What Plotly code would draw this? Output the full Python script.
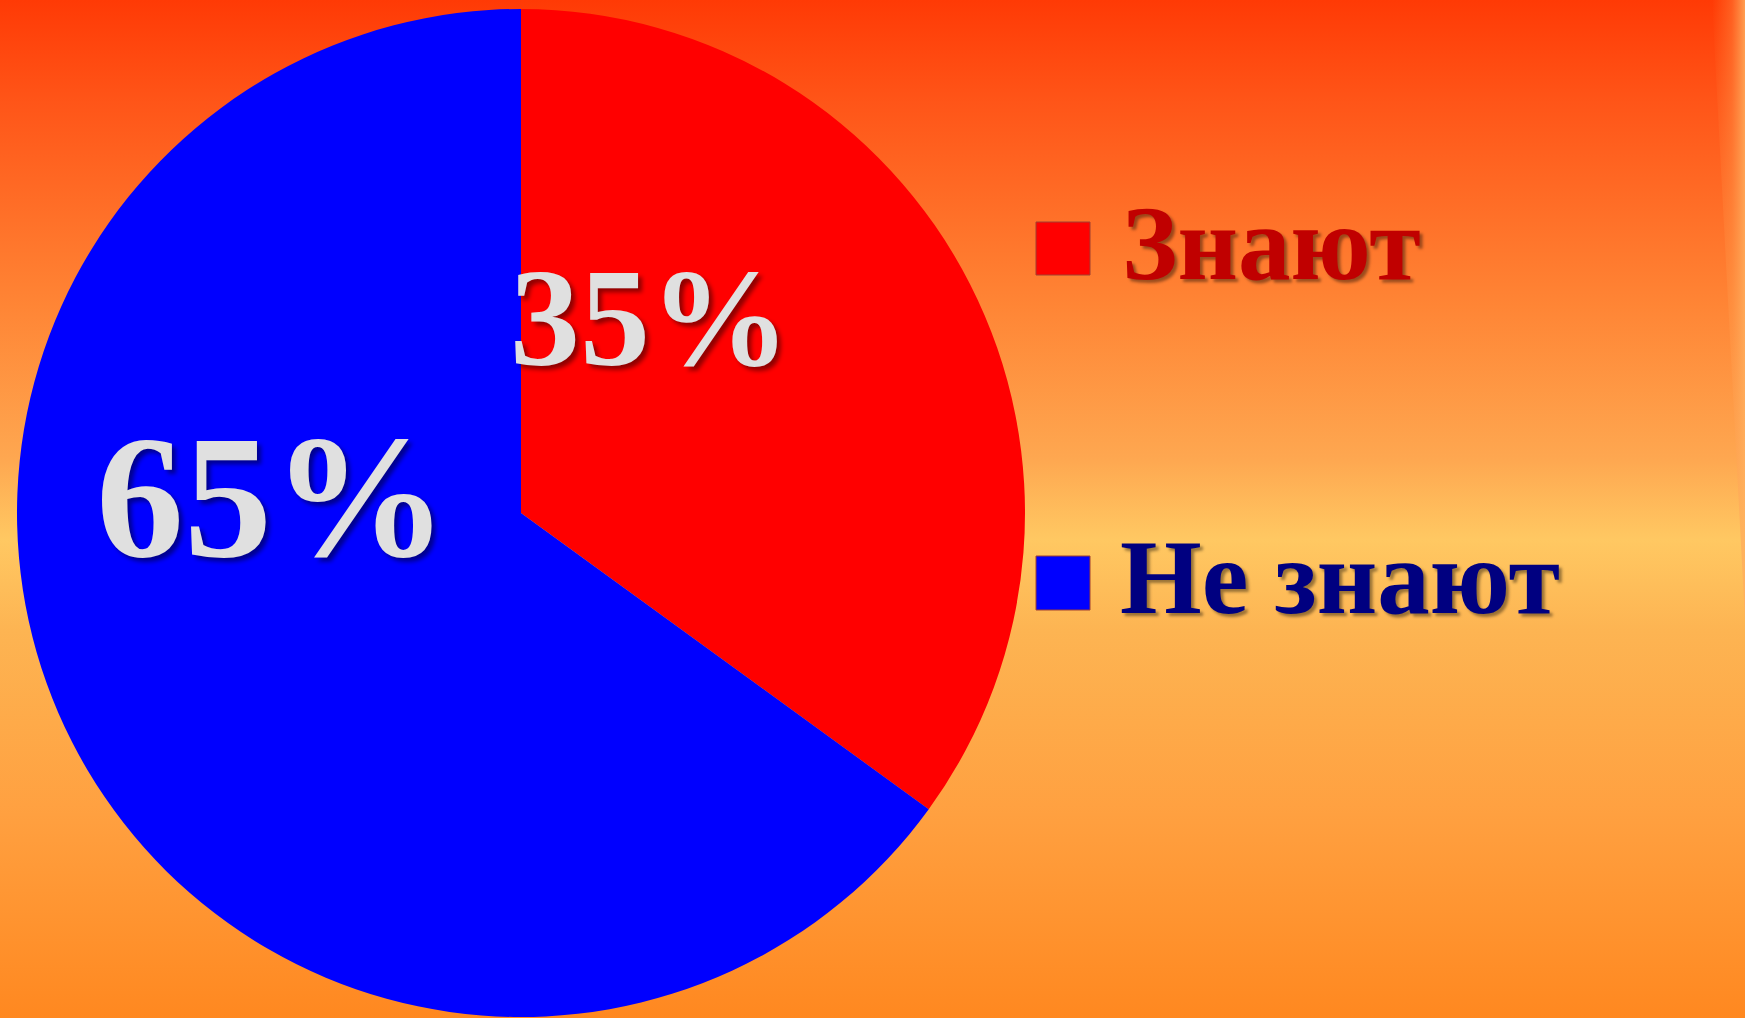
import plotly.graph_objects as go

# ---- data ----
categories = ["Знают", "Не знают"]
values = [35, 65]
slice_colors = ["#FF0000", "#0000FF"]
legend_text_colors = ["#C00000", "#000080"]

W, H = 1745, 1018
FONT = "Liberation Serif"

fig = go.Figure()

# background gradient (decoration) on hidden cartesian axes
bg_stops = [  # (fraction from top, color)
    (0.00, "#FF3A05"),
    (0.10, "#FF5518"),
    (0.30, "#FF8535"),
    (0.45, "#FEA750"),
    (0.53, "#FFC862"),
    (0.62, "#FDB452"),
    (0.80, "#FFA040"),
    (1.00, "#FF8820"),
]
colorscale = sorted([[1 - f, c] for f, c in bg_stops], key=lambda s: s[0])
fig.add_trace(go.Scatter(
    x=[0, 1, 1, 0, 0], y=[0, 0, 1, 1, 0], mode="lines",
    line=dict(width=0), fill="toself",
    fillgradient=dict(type="vertical", colorscale=colorscale),
    hoverinfo="skip", showlegend=False,
))
# light sliver on the right edge (decoration), tapering downwards
fig.add_trace(go.Scatter(
    x=[1712 / W, 1, 1, 1712 / W], y=[1, 1, 1 - 620 / H, 1], mode="lines",
    line=dict(width=0), fill="toself",
    fillgradient=dict(type="horizontal",
                      colorscale=[[0, "rgba(255,150,70,0)"], [0.6, "rgba(255,160,80,0.35)"], [1, "rgba(255,175,95,0.85)"]]),
    hoverinfo="skip", showlegend=False,
))

cx, cy, r = 521, 513, 504
fig.add_trace(go.Pie(
    labels=categories, values=values,
    marker=dict(colors=slice_colors, line=dict(width=0)),
    sort=False, direction="clockwise", rotation=0,
    textinfo="none", hoverinfo="label+percent",
    domain=dict(x=[(cx - r) / W, (cx + r) / W], y=[1 - (cy + r) / H, 1 - (cy - r) / H]),
    showlegend=False,
))

# percentage labels
label_pos = [(650, 317, 140), (272, 496, 176)]
annotations = []
for v, (px, py, fs) in zip(values, label_pos):
    annotations.append(dict(
        text=f"<b>{v}%</b>", x=px / W, y=1 - py / H, xref="paper", yref="paper",
        xanchor="center", yanchor="middle", showarrow=False,
        font=dict(family=FONT, size=fs, color="#E0E0E0", shadow="4px 4px 4px #00000070"),
    ))

# manual legend
shapes = []
legend_rows = [(244, 222, 275, 1120), (577, 556, 610, 1118)]
for cat, col, tcol, (ty, sy0, sy1, tx) in zip(categories, slice_colors, legend_text_colors, legend_rows):
    shapes.append(dict(type="rect", xref="paper", yref="paper",
                       x0=1036 / W, x1=1090 / W, y0=1 - sy1 / H, y1=1 - sy0 / H,
                       fillcolor=col, line=dict(color="#A04030", width=1)))
    annotations.append(dict(
        text=f"<b>{cat}</b>", x=tx / W, y=1 - ty / H, xref="paper", yref="paper",
        xanchor="left", yanchor="middle", showarrow=False,
        font=dict(family=FONT, size=105, color=tcol, shadow="3px 3px 3px #00000066"),
    ))

fig.update_layout(
    width=W, height=H, margin=dict(l=0, r=0, t=0, b=0),
    paper_bgcolor="#FF9A40", plot_bgcolor="rgba(0,0,0,0)",
    xaxis=dict(range=[0, 1], visible=False, fixedrange=True),
    yaxis=dict(range=[0, 1], visible=False, fixedrange=True),
    annotations=annotations, shapes=shapes, showlegend=False,
)

fig.write_html("out.html", config=dict(displayModeBar=False),
               post_script="document.body.style.margin='0';document.body.style.overflow='hidden';")
